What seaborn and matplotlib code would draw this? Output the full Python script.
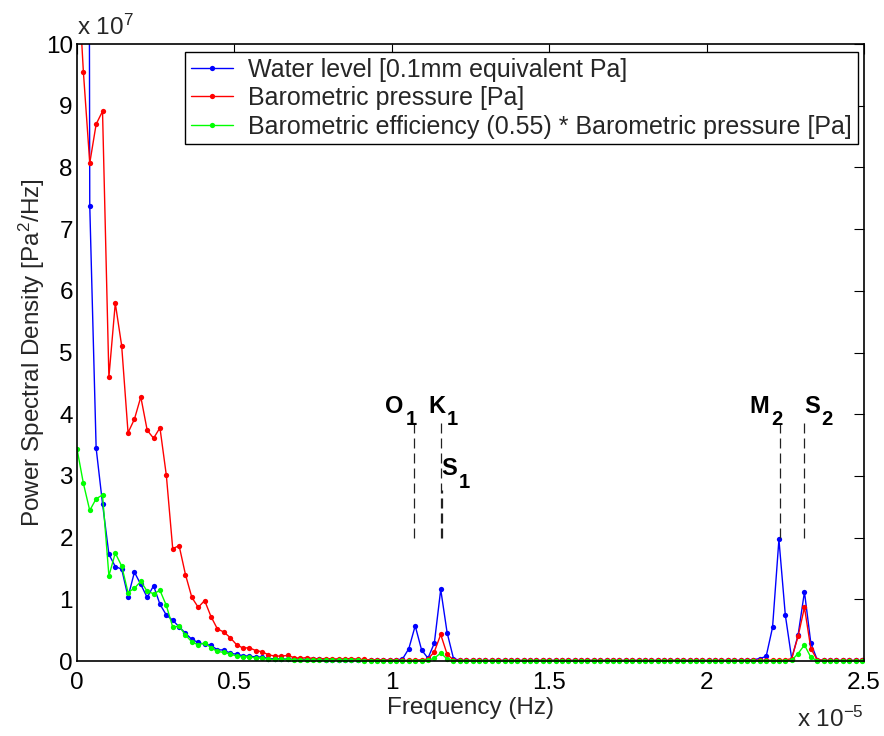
import numpy as np
import pandas as pd
import matplotlib
matplotlib.use("Agg")
import matplotlib.pyplot as plt
import seaborn as sns
from matplotlib.patches import Rectangle

# ---------------- data (freq in 1e-5 Hz, PSD in 1e7 Pa^2/Hz) ----------------
bin_width = 0.02027          # spectral resolution, 1e-5 Hz
n_bins = 124
freq = np.arange(n_bins) * bin_width

water_level = [
    45.0, 60.0, 7.38, 3.45, 2.55, 1.73, 1.53, 1.49, 1.04, 1.44,
    1.24, 1.03, 1.22, 0.92, 0.745, 0.66, 0.555, 0.45, 0.35, 0.30,
    0.27, 0.255, 0.18, 0.18, 0.125, 0.11, 0.085, 0.08, 0.065, 0.065,
    0.04, 0.035, 0.035, 0.03, 0.03, 0.03, 0.025, 0.025, 0.025, 0.02,
    0.02, 0.02, 0.02, 0.015, 0.015, 0.015, 0.015, 0.015, 0.015, 0.015,
    0.02, 0.03, 0.20, 0.57, 0.18, 0.045, 0.29, 1.16, 0.46, 0.04,
    0.012, 0.010, 0.009, 0.010, 0.010, 0.009, 0.010, 0.011, 0.010, 0.009,
    0.010, 0.010, 0.009, 0.010, 0.011, 0.010, 0.009, 0.010, 0.010, 0.009,
    0.010, 0.011, 0.010, 0.009, 0.010, 0.010, 0.009, 0.010, 0.011, 0.010,
    0.009, 0.010, 0.010, 0.009, 0.010, 0.011, 0.010, 0.009, 0.010, 0.010,
    0.010, 0.009, 0.010, 0.011, 0.012, 0.015, 0.020, 0.04, 0.075, 0.545,
    1.97, 0.745, 0.04, 0.42, 1.12, 0.29, 0.02, 0.010, 0.010, 0.009,
    0.010, 0.010, 0.009, 0.010,
]

baro_pressure = [
    11.4, 9.55, 8.07, 8.70, 8.91, 4.60, 5.80, 5.11, 3.70, 3.92,
    4.28, 3.74, 3.61, 3.78, 3.01, 1.82, 1.87, 1.40, 1.03, 0.87,
    0.98, 0.72, 0.52, 0.47, 0.38, 0.265, 0.21, 0.215, 0.17, 0.15,
    0.10, 0.08, 0.08, 0.09, 0.055, 0.045, 0.055, 0.04, 0.035, 0.04,
    0.035, 0.035, 0.035, 0.04, 0.03, 0.025, 0.02, 0.02, 0.015, 0.015,
    0.015, 0.012, 0.012, 0.015, 0.02, 0.03, 0.15, 0.43, 0.11, 0.015,
    0.012, 0.010, 0.011, 0.010, 0.009, 0.010, 0.011, 0.010, 0.009, 0.010,
    0.010, 0.009, 0.010, 0.011, 0.010, 0.009, 0.010, 0.010, 0.009, 0.010,
    0.011, 0.010, 0.009, 0.010, 0.010, 0.009, 0.010, 0.011, 0.010, 0.009,
    0.010, 0.010, 0.009, 0.010, 0.011, 0.010, 0.009, 0.010, 0.010, 0.009,
    0.010, 0.011, 0.010, 0.009, 0.010, 0.010, 0.011, 0.012, 0.012, 0.013,
    0.012, 0.015, 0.04, 0.40, 0.87, 0.20, 0.02, 0.012, 0.010, 0.010,
    0.009, 0.010, 0.010, 0.009,
]

baro_efficiency = [
    3.44, 2.88, 2.44, 2.63, 2.69, 1.38, 1.75, 1.54, 1.11, 1.18,
    1.29, 1.13, 1.09, 1.145, 0.90, 0.55, 0.565, 0.42, 0.31, 0.26,
    0.295, 0.215, 0.155, 0.14, 0.115, 0.08, 0.065, 0.065, 0.05, 0.045,
    0.03, 0.025, 0.025, 0.027, 0.017, 0.014, 0.017, 0.012, 0.011, 0.012,
    0.011, 0.011, 0.011, 0.012, 0.009, 0.008, 0.006, 0.006, 0.005, 0.005,
    0.005, 0.004, 0.004, 0.005, 0.006, 0.009, 0.045, 0.13, 0.033, 0.005,
    0.004, 0.003, 0.004, 0.003, 0.003, 0.004, 0.003, 0.003, 0.004, 0.003,
    0.003, 0.004, 0.003, 0.003, 0.004, 0.003, 0.003, 0.004, 0.003, 0.003,
    0.004, 0.003, 0.003, 0.004, 0.003, 0.003, 0.004, 0.003, 0.003, 0.004,
    0.003, 0.003, 0.004, 0.003, 0.003, 0.004, 0.003, 0.003, 0.004, 0.003,
    0.003, 0.004, 0.003, 0.003, 0.004, 0.003, 0.003, 0.004, 0.004, 0.004,
    0.004, 0.005, 0.012, 0.12, 0.26, 0.06, 0.006, 0.004, 0.003, 0.003,
    0.003, 0.003, 0.003, 0.003,
]

series_labels = [
    "Water level [0.1mm equivalent Pa]",
    "Barometric pressure [Pa]",
    "Barometric efficiency (0.55) * Barometric pressure [Pa]",
]
series_colors = ["#0000ff", "#ff0000", "#00ff00"]

tide_names = ["O", "K", "S", "M", "S"]
tide_subs = ["1", "1", "1", "2", "2"]
tide_freq = [1.072, 1.155, 1.158, 2.232, 2.308]
tide_line_top = [3.88, 3.88, 2.77, 3.88, 3.88]
tide_line_bottom = 2.0
# label anchor (left, baseline) in data units
tide_label_x = [0.978, 1.115, 1.156, 2.135, 2.309]
tide_label_y = [4.02, 4.02, 3.01, 4.02, 4.02]

xticks = [0, 0.5, 1, 1.5, 2, 2.5]
xtick_labels = ["0", "0.5", "1", "1.5", "2", "2.5"]
yticks = list(range(0, 11))
ytick_labels = [str(v) for v in yticks]

# ---------------- style ----------------
sns.set_theme(style="white")
FONT = "Liberation Sans"
plt.rcParams["font.family"] = [FONT, "DejaVu Sans"]
plt.rcParams["mathtext.fontset"] = "custom"
plt.rcParams["mathtext.rm"] = FONT
plt.rcParams["mathtext.it"] = FONT + ":italic"
plt.rcParams["mathtext.bf"] = FONT + ":bold"
FS = 17.5

long_df = pd.concat(
    [
        pd.DataFrame({"freq": freq, "psd": vals, "series": lab})
        for vals, lab in zip([water_level, baro_pressure, baro_efficiency], series_labels)
    ],
    ignore_index=True,
)

fig = plt.figure(figsize=(8.84, 7.36), dpi=100)
ax = fig.add_axes([0.0871, 0.1019, 0.8903, 0.8383])

sns.lineplot(
    data=long_df, x="freq", y="psd", hue="series", hue_order=series_labels,
    palette=series_colors, marker="o", markersize=3.8, markeredgewidth=0,
    linewidth=1.0, sort=False, estimator=None, legend=False, ax=ax,
)

data_lines = list(ax.lines[:3])
for ln in data_lines:
    ln.set_clip_path(Rectangle((0, -0.02), 1, 1.02, transform=ax.transAxes))

# tidal constituent markers
for f, top in zip(tide_freq, tide_line_top):
    ax.plot([f, f], [tide_line_bottom, top], color="#222222",
            linestyle=(0, (8, 4)), linewidth=0.9)
letter_texts = []
for name, tx, ty in zip(tide_names, tide_label_x, tide_label_y):
    letter_texts.append(ax.text(tx, ty, name, fontsize=17, fontweight="bold",
                                ha="left", va="baseline", color="black"))

ax.set_xlim(0, 2.5)
ax.set_ylim(0, 10)
ax.set_xticks(xticks)
ax.set_xticklabels(xtick_labels)
ax.set_yticks(yticks)
ax.set_yticklabels(ytick_labels)
ax.tick_params(direction="in", top=True, right=True, length=7, width=0.8,
               labelsize=FS, colors="black")
ax.tick_params(axis="x", pad=8)
ax.tick_params(axis="y", pad=3)
for sp in ax.spines.values():
    sp.set_color("black")
    sp.set_linewidth(1.2)
    sp.set_visible(True)

ax.set_xlabel("Frequency (Hz)", fontsize=FS, labelpad=2)
ax.set_ylabel(r"Power Spectral Density [Pa$^2$/Hz]", fontsize=FS, labelpad=-1)

ax.text(0.0, 1.015, r"x 10$^{7}$", transform=ax.transAxes, ha="left",
        va="baseline", fontsize=FS)
ax.text(1.0, -0.107, r"x 10$^{-5}$", transform=ax.transAxes, ha="right",
        va="baseline", fontsize=FS)

leg = ax.legend(
    data_lines, series_labels, loc="upper right", bbox_to_anchor=(0.992, 0.987),
    borderaxespad=0, fontsize=18, frameon=True, fancybox=False, framealpha=1,
    edgecolor="black", borderpad=0.22, handlelength=1.7, handletextpad=0.6,
    labelspacing=0.18,
)
leg.get_frame().set_linewidth(1.0)

# subscripts placed right after each bold letter, dropped below baseline
fig.canvas.draw()
renderer = fig.canvas.get_renderer()
for t, sub, tx, ty in zip(letter_texts, tide_subs, tide_label_x, tide_label_y):
    bb = t.get_window_extent(renderer)
    x0 = ax.transData.transform((tx, ty))[0]
    dx_pt = (bb.x1 - x0 + 2) * 72.0 / fig.dpi
    ax.annotate(sub, xy=(tx, ty), xycoords="data", xytext=(dx_pt, -9),
                textcoords="offset points", fontsize=14.5, fontweight="bold",
                ha="left", va="baseline", color="black")

fig.savefig("out.png", dpi=100, facecolor="white")
